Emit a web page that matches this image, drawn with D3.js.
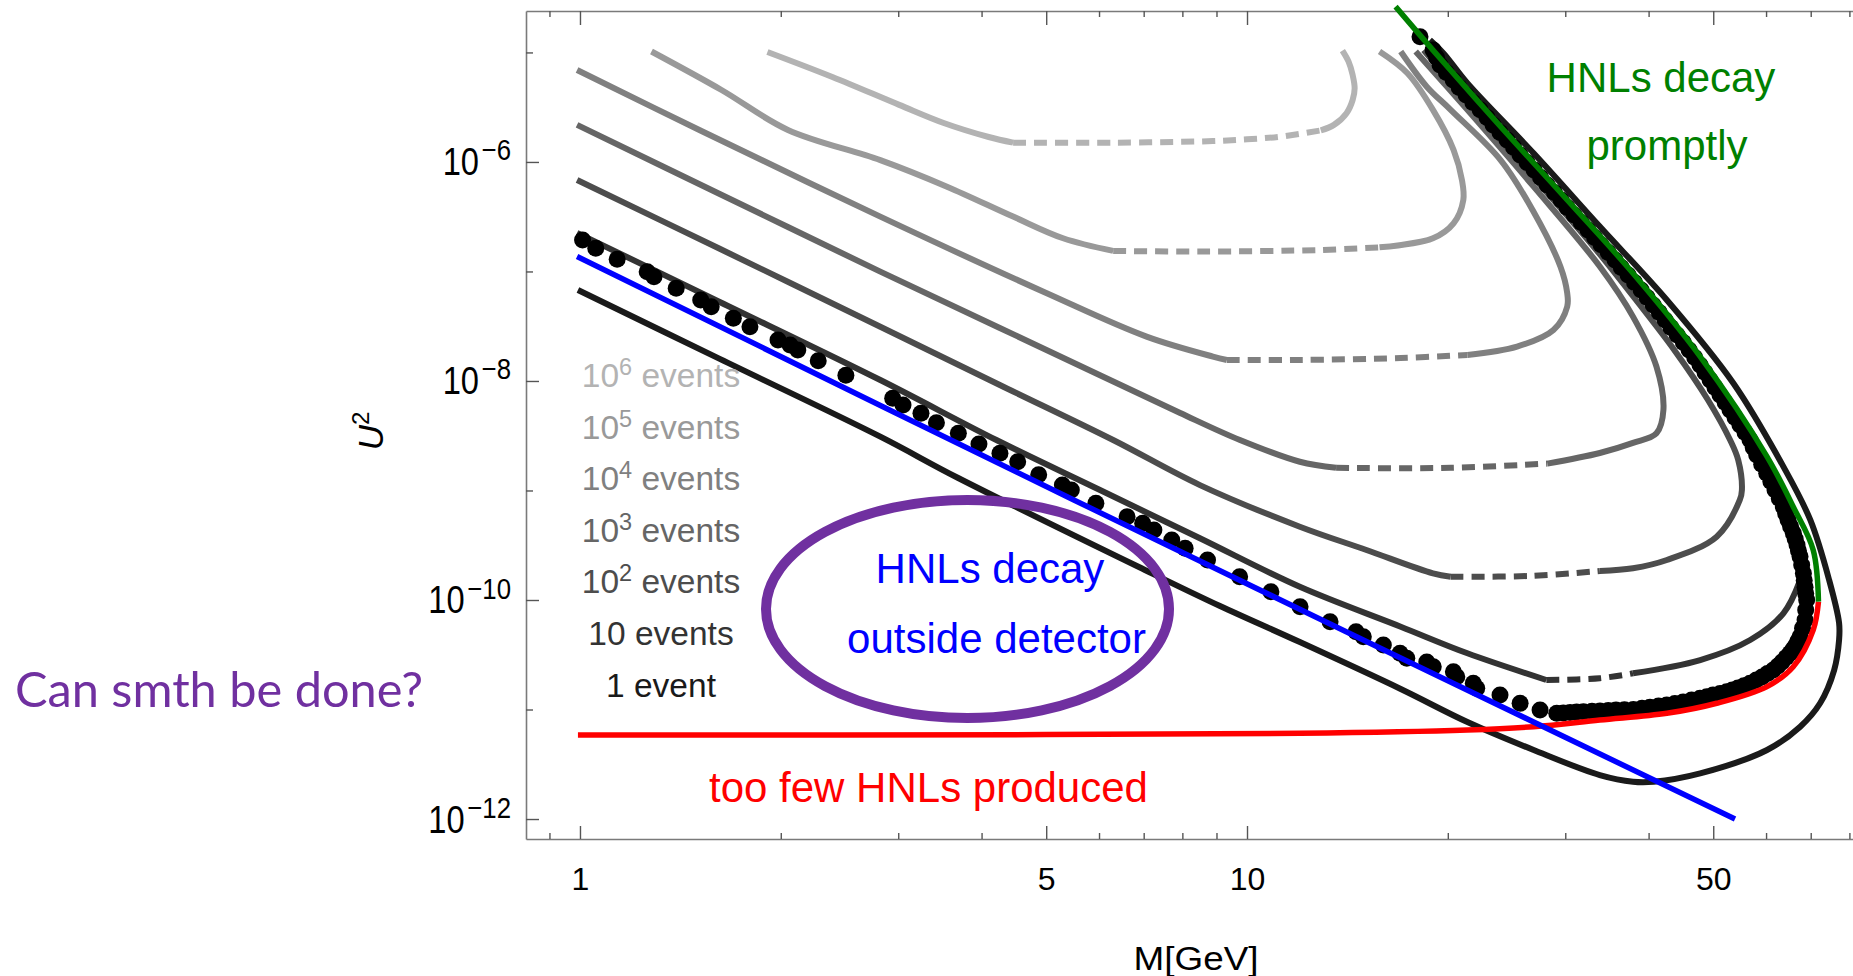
<!DOCTYPE html>
<html>
<head>
<meta charset="utf-8">
<title>HNL events vs. mass and mixing</title>
<script src="https://cdn.jsdelivr.net/npm/d3@7/dist/d3.min.js"></script>
<style>
  html, body { margin: 0; padding: 0; background: #fff; }
  svg { display: block; background: #fff; }
</style>
</head>
<body>
<svg id="chart" width="1853" height="976"></svg>
<script>
/* =======================================================================
   HNL event contours in the (M, U^2) plane
   ======================================================================= */

/* Data
======================================================================= */
var massRange = [0.83, 81],              // M[GeV] visible on the x axis
    mixingRange = [6.57e-13, 2.39e-5],   // U^2 visible on the y axis
    massTicksMajor = [1, 5, 10, 50],
    massTicksMinor = [0.9, 2, 3, 4, 6, 7, 8, 9, 20, 30, 40, 60, 70, 80],
    mixingTicksMajor = [1e-6, 1e-8, 1e-10, 1e-12],
    mixingTicksMinor = [1e-5, 1e-7, 1e-9, 1e-11];

// Contours of a fixed number of events, points are [M, U^2]
var events1e6 = [
  [1.91, 1.01e-5], [2.39, 5.97e-6], [3.01, 3.32e-6], [3.51, 2.27e-6], [4.10, 1.69e-6],
  [4.46, 1.50e-6], [6.30, 1.50e-6], [8.89, 1.55e-6], [10.0, 1.61e-6], [11.2, 1.70e-6],
  [12.9, 1.94e-6], [13.5, 2.18e-6], [14.1, 2.79e-6], [14.4, 3.68e-6], [14.5, 4.71e-6],
  [14.4, 6.23e-6], [14.2, 8.24e-6], [13.9, 1.04e-5]
];
var events1e5 = [
  [1.28, 1.02e-5], [1.63, 4.54e-6], [2.05, 1.96e-6], [2.82, 1.04e-6], [3.55, 5.95e-7],
  [4.46, 3.17e-7], [5.30, 2.01e-7], [6.30, 1.54e-7], [8.50, 1.52e-7], [12.9, 1.57e-7],
  [15.8, 1.66e-7], [19.0, 2.01e-7], [20.4, 2.75e-7], [21.1, 4.50e-7], [21.0, 6.85e-7],
  [20.4, 1.29e-6], [19.0, 2.99e-6], [17.4, 6.46e-6], [15.8, 1.02e-5]
];
var events1e4 = [
  [0.99, 6.92e-6], [1.51, 1.96e-6], [2.82, 3.17e-7], [5.01, 6.32e-8], [7.07, 2.54e-8],
  [8.89, 1.67e-8], [9.33, 1.555e-8], [12.0, 1.555e-8], [17.0, 1.62e-8], [21.4, 1.73e-8],
  [25.4, 2.06e-8], [28.8, 2.92e-8], [30.2, 4.77e-8], [30.2, 6.36e-8], [29.5, 1.11e-7],
  [26.8, 3.64e-7], [24.0, 1.04e-6], [20.2, 2.99e-6], [18.6, 4.87e-6], [17.0, 1.02e-5]
];
var events1e3 = [
  [0.99, 2.18e-6], [1.62, 5.10e-7], [2.82, 9.96e-8], [4.26, 3.05e-8], [6.02, 1.13e-8],
  [7.94, 5.10e-9], [9.76, 2.89e-9], [12.0, 1.83e-9], [13.6, 1.61e-9], [20.2, 1.61e-9],
  [28.2, 1.76e-9], [33.8, 2.20e-9], [37.9, 2.72e-9], [41.1, 3.33e-9], [42.1, 5.44e-9],
  [41.1, 1.35e-8], [37.9, 3.87e-8], [33.8, 1.11e-7], [26.9, 5.95e-7], [21.4, 2.99e-6],
  [17.9, 1.02e-5]
];
var events1e2 = [
  [0.99, 6.85e-7], [1.62, 1.61e-7], [2.82, 3.13e-8], [4.26, 9.19e-9], [6.30, 2.89e-9],
  [8.50, 1.12e-9], [12.0, 4.67e-10], [15.1, 2.86e-10], [19.0, 1.75e-10], [20.2, 1.63e-10],
  [26.8, 1.66e-10], [33.8, 1.84e-10], [37.9, 1.95e-10], [42.6, 2.32e-10], [50.6, 3.79e-10],
  [54.8, 8.19e-10], [55.2, 1.01e-9], [54.5, 1.90e-9], [53.0, 2.89e-9], [49.1, 6.71e-9],
  [43.7, 1.92e-8], [38.3, 5.49e-8], [33.4, 1.57e-7], [28.8, 4.50e-7], [24.7, 1.29e-6],
  [21.3, 3.68e-6], [18.4, 1.05e-5]
];
var events10 = [
  [0.99, 2.25e-7], [1.62, 5.27e-8], [2.82, 1.02e-8], [4.21, 2.89e-9], [6.02, 1.01e-9],
  [8.50, 3.66e-10], [12.0, 1.32e-10], [17.0, 5.70e-11], [21.4, 3.26e-11], [28.1, 1.86e-11],
  [33.8, 1.93e-11], [37.9, 2.14e-11], [47.8, 2.83e-11], [56.8, 4.31e-11], [63.7, 7.56e-11],
  [67.5, 1.52e-10], [68.3, 2.01e-10], [66.7, 4.07e-10], [63.0, 9.43e-10], [58.8, 1.90e-9],
  [51.5, 6.71e-9], [45.8, 1.92e-8], [39.9, 5.49e-8], [34.4, 1.57e-7], [29.5, 4.50e-7],
  [25.1, 1.29e-6], [21.6, 3.68e-6], [18.6, 1.05e-5]
];
var events1 = [
  [0.993, 6.78e-8], [1.62, 1.59e-8], [2.82, 3.10e-9], [3.69, 1.30e-9], [7.03, 1.88e-10],
  [9.11, 8.81e-11], [12.0, 4.13e-11], [17.0, 1.54e-11], [21.4, 7.69e-12], [26.9, 4.27e-12],
  [33.8, 2.52e-12], [37.9, 2.19e-12], [40.7, 2.19e-12], [47.8, 2.61e-12], [60.2, 4.27e-12],
  [67.5, 6.97e-12], [72.3, 1.14e-11], [75.9, 2.29e-11], [77.2, 4.31e-11], [77.2, 6.17e-11],
  [74.6, 1.52e-10], [69.9, 5.38e-10], [63.7, 1.65e-9], [53.6, 9.53e-9], [42.6, 5.49e-8],
  [33.8, 2.57e-7], [26.9, 1.20e-6], [21.4, 5.23e-6], [19.7, 9.83e-6], [18.8, 1.30e-5]
];

// Black points along the 10 event region
var hnlPoints = [
  [1.009, 1.94e-7], [1.056, 1.63e-7], [1.137, 1.29e-7], [1.261, 9.96e-8], [1.291, 8.96e-8],
  [1.394, 7.02e-8], [1.517, 5.49e-8], [1.573, 4.77e-8], [1.698, 3.74e-8], [1.798, 3.13e-8],
  [1.981, 2.37e-8], [2.065, 2.13e-8], [2.121, 1.92e-8], [2.276, 1.53e-8], [2.504, 1.13e-8],
  [2.943, 6.95e-9], [3.050, 6.04e-9], [3.245, 5.07e-9], [3.423, 4.16e-9], [3.692, 3.33e-9],
  [3.964, 2.66e-9], [4.262, 2.19e-9], [4.531, 1.83e-9], [4.872, 1.39e-9], [5.287, 1.12e-9],
  [5.453, 1.01e-9], [5.935, 7.64e-10], [6.610, 5.76e-10], [6.976, 5.02e-10], [7.251, 4.36e-10],
  [7.712, 3.53e-10], [8.077, 2.97e-10], [8.726, 2.32e-10], [9.748, 1.63e-10], [10.86, 1.19e-10],
  [12.01, 8.69e-11], [13.32, 6.34e-11], [14.57, 5.13e-11], [14.94, 4.62e-11], [16.01, 3.88e-11],
  [16.96, 3.26e-11], [17.36, 2.94e-11], [18.60, 2.72e-11], [19.02, 2.46e-11], [20.39, 2.21e-11],
  [20.63, 1.99e-11], [21.84, 1.74e-11], [22.10, 1.56e-11], [23.95, 1.36e-11], [25.67, 1.14e-11],
  [27.50, 9.89e-12], [29.13, 9.23e-12], [30.50, 9.39e-12], [31.94, 9.55e-12], [33.82, 9.69e-12],
  [35.74, 9.89e-12], [37.95, 1.00e-11], [40.19, 1.05e-11], [42.59, 1.10e-11], [45.06, 1.17e-11],
  [47.77, 1.27e-11], [49.96, 1.36e-11], [52.38, 1.45e-11], [54.46, 1.57e-11], [56.77, 1.74e-11],
  [59.17, 1.98e-11], [61.52, 2.29e-11], [63.40, 2.72e-11], [65.18, 3.26e-11], [66.55, 3.88e-11],
  [67.46, 4.62e-11], [68.64, 6.57e-11], [69.03, 1.00e-10], [68.64, 1.31e-10], [68.25, 1.75e-10],
  [67.46, 2.49e-10], [66.77, 3.18e-10], [65.93, 4.07e-10], [64.73, 5.38e-10], [63.69, 7.11e-10],
  [61.88, 1.01e-9], [60.14, 1.44e-9], [58.09, 2.11e-9], [56.77, 2.89e-9], [54.83, 3.96e-9],
  [52.98, 5.44e-9], [51.18, 7.45e-9], [49.45, 1.02e-8], [47.77, 1.40e-8], [46.0, 1.92e-8],
  [44.14, 2.63e-8], [42.34, 3.61e-8], [40.63, 4.94e-8], [38.97, 6.78e-8], [37.26, 9.29e-8],
  [35.62, 1.27e-7], [33.95, 1.75e-7], [32.45, 2.39e-7], [30.93, 3.28e-7], [29.57, 4.50e-7],
  [28.18, 6.17e-7], [26.94, 8.45e-7], [25.67, 1.16e-6], [24.54, 1.59e-6], [23.38, 2.18e-6],
  [22.36, 2.99e-6], [21.30, 4.09e-6], [20.37, 5.61e-6], [19.47, 7.69e-6], [19.01, 1.05e-5],
  [18.17, 1.39e-5]
];

// Further points where they pile up into a solid band (right side)
var hnlBandPoints = [
  [29.8, 9.31e-12], [31.2, 9.47e-12], [32.9, 9.62e-12], [34.8, 9.79e-12], [36.8, 9.94e-12],
  [39.1, 1.025e-11], [41.4, 1.075e-11], [43.8, 1.135e-11], [46.4, 1.22e-11], [48.9, 1.31e-11],
  [51.2, 1.40e-11], [53.4, 1.51e-11], [55.6, 1.65e-11], [58.0, 1.86e-11], [60.3, 2.13e-11],
  [62.5, 2.50e-11], [64.3, 2.98e-11], [65.9, 3.56e-11], [67.0, 4.23e-11], [68.05, 5.51e-11],
  [68.8, 8.1e-11], [68.8, 1.145e-10], [68.45, 1.51e-10], [67.85, 2.09e-10], [67.1, 2.81e-10],
  [66.35, 3.60e-10], [65.3, 4.68e-10], [64.2, 6.18e-10], [62.8, 8.47e-10], [61.0, 1.21e-9],
  [59.1, 1.74e-9], [57.4, 2.47e-9], [55.8, 3.38e-9], [53.9, 4.64e-9], [52.1, 6.37e-9],
  [50.3, 8.72e-9], [48.6, 1.195e-8], [46.9, 1.64e-8], [45.1, 2.25e-8], [43.2, 3.08e-8],
  [41.5, 4.22e-8], [39.8, 5.79e-8], [38.1, 7.94e-8], [36.4, 1.086e-7], [34.8, 1.49e-7],
  [33.2, 2.045e-7], [31.7, 2.80e-7], [30.2, 3.84e-7], [28.9, 5.27e-7], [27.55, 7.22e-7],
  [26.3, 9.9e-7], [25.1, 1.36e-6], [23.95, 1.86e-6], [22.9, 2.55e-6], [21.8, 3.50e-6],
  [20.8, 4.79e-6], [19.9, 6.57e-6], [19.24, 8.99e-6]
];

// Boundary lines
var decayOutside = [[0.99, 1.37e-7], [5.50, 8.19e-10], [53.9, 1.0e-12]];
var tooFewProduced = [
  [0.993, 5.85e-12], [5.0, 5.90e-12], [12.0, 6.06e-12], [21.4, 6.50e-12], [26.9, 6.97e-12],
  [33.8, 8.02e-12], [42.6, 9.23e-12], [50.6, 1.14e-11], [60.2, 1.62e-11], [65.9, 2.46e-11],
  [70.6, 5.32e-11], [71.9, 9.65e-11]
];
var decayPromptly = [
  [16.7, 2.62e-5], [19.0, 1.05e-5], [24.0, 2.10e-6], [30.2, 4.50e-7], [37.9, 9.63e-8],
  [47.8, 1.67e-8], [60.2, 2.04e-9], [65.9, 7.11e-10], [70.6, 2.86e-10], [71.9, 9.65e-11]
];

// Legend labels for the contours
var legendBase = ['10', '10', '10', '10', '10', '10 events', '1 event'],
    legendPower = ['6', '5', '4', '3', '2', '', ''],
    legendTail = [' events', ' events', ' events', ' events', ' events', '', ''];

/* Styles and layout
======================================================================= */
var textFont = '"Liberation Sans", Arial, Helvetica, sans-serif',
    axisColor = '#7a7a7a',
    plot = { left: 526, top: 11, right: 1853, bottom: 839 },
    contours = [
      { data: events1e6, color: '#b3b3b3', dash: [5, 10] },
      { data: events1e5, color: '#999999', dash: [7, 10] },
      { data: events1e4, color: '#808080', dash: [6, 9] },
      { data: events1e3, color: '#666666', dash: [8, 10] },
      { data: events1e2, color: '#4d4d4d', dash: [9, 11] },
      { data: events10, color: '#333333', dash: [9, 11] },
      { data: events1, color: '#1a1a1a', dash: null }
    ];

var svg = d3.select('#chart');

// Scales
var x = d3.scaleLog().domain(massRange).range([plot.left, plot.right]),
    y = d3.scaleLog().domain(mixingRange).range([plot.bottom, plot.top]);

var line = d3.line()
  .x(function(d) { return x(d[0]); })
  .y(function(d) { return y(d[1]); })
  .curve(d3.curveCatmullRom.alpha(0.5));

/* Axes
======================================================================= */
function styleAxis(g, keepDomain) {
  g.attr('font-family', textFont);
  if (keepDomain) {
    g.select('.domain').attr('stroke', axisColor).attr('stroke-width', 1.6);
  } else {
    g.select('.domain').remove();
  }
  g.selectAll('.tick line').attr('stroke', '#555').attr('stroke-width', 1.4);
}

// Bottom axis with labels
svg.append('g')
  .attr('transform', 'translate(0,' + plot.bottom + ')')
  .call(d3.axisBottom(x).tickValues(massTicksMajor).tickSizeInner(-13).tickSizeOuter(0)
    .tickPadding(28).tickFormat(d3.format('d')))
  .call(function(g) {
    styleAxis(g, true);
    g.selectAll('.tick text').attr('font-size', 32).attr('fill', '#000');
  });

svg.append('g')
  .attr('transform', 'translate(0,' + plot.bottom + ')')
  .call(d3.axisBottom(x).tickValues(massTicksMinor).tickSizeInner(-6).tickSizeOuter(0).tickFormat(''))
  .call(function(g) { styleAxis(g, false); });

// Top frame
svg.append('g')
  .attr('transform', 'translate(0,' + plot.top + ')')
  .call(d3.axisTop(x).tickValues(massTicksMajor).tickSizeInner(-14).tickSizeOuter(0).tickFormat(''))
  .call(function(g) { styleAxis(g, true); });

svg.append('g')
  .attr('transform', 'translate(0,' + plot.top + ')')
  .call(d3.axisTop(x).tickValues(massTicksMinor).tickSizeInner(-6).tickSizeOuter(0).tickFormat(''))
  .call(function(g) { styleAxis(g, false); });

// Left axis, labels are written as 10 with a raised exponent
svg.append('g')
  .attr('transform', 'translate(' + plot.left + ',0)')
  .call(d3.axisLeft(y).tickValues(mixingTicksMajor).tickSizeInner(-13).tickSizeOuter(0).tickFormat(''))
  .call(function(g) {
    styleAxis(g, true);
    g.selectAll('.tick text').remove();
    g.selectAll('.tick').append('text')
      .attr('transform', 'translate(-15,13) scale(0.86,1)')
      .attr('text-anchor', 'end')
      .attr('fill', '#000')
      .each(function(d) {
        var t = d3.select(this);
        t.append('tspan').attr('font-size', 38).text('10');
        t.append('tspan').attr('font-size', 30).attr('dx', 3).attr('dy', -15)
          .text('\u2212' + Math.round(-Math.log10(d)));
      });
  });

svg.append('g')
  .attr('transform', 'translate(' + plot.left + ',0)')
  .call(d3.axisLeft(y).tickValues(mixingTicksMinor).tickSizeInner(-7).tickSizeOuter(0).tickFormat(''))
  .call(function(g) { styleAxis(g, false); });

// Axis titles
svg.append('text')
  .attr('x', 1196).attr('y', 970)
  .attr('text-anchor', 'middle')
  .attr('font-family', textFont).attr('font-size', 33)
  .attr('textLength', 125).attr('lengthAdjust', 'spacingAndGlyphs')
  .text('M[GeV]');

var yTitle = svg.append('text')
  .attr('transform', 'translate(383,431) rotate(-90)')
  .attr('text-anchor', 'middle')
  .attr('font-family', textFont).attr('font-size', 35);
yTitle.append('tspan').attr('font-style', 'italic').text('U');
yTitle.append('tspan').attr('font-size', 24).attr('dy', -14).text('2');

/* Curves
======================================================================= */
var curveLayer = svg.append('g').attr('fill', 'none');

contours.forEach(function(c) {
  var pieces;

  // Split each contour so the flat middle part can be dashed
  if (c.dash) {
    pieces = [
      { pts: c.data.slice(0, c.dash[0] + 1), dashed: false },
      { pts: c.data.slice(c.dash[0], c.dash[1] + 1), dashed: true },
      { pts: c.data.slice(c.dash[1]), dashed: false }
    ];
  } else {
    pieces = [{ pts: c.data, dashed: false }];
  }

  pieces.forEach(function(p) {
    curveLayer.append('path')
      .attr('d', line(p.pts))
      .attr('stroke', c.color)
      .attr('stroke-width', 6)
      .attr('stroke-dasharray', p.dashed ? '13,8' : null);
  });
});

// Points
svg.append('g')
  .selectAll('circle')
  .data(hnlPoints.concat(hnlBandPoints))
  .join('circle')
    .attr('cx', function(d) { return x(d[0]); })
    .attr('cy', function(d) { return y(d[1]); })
    .attr('r', 8.5)
    .attr('fill', '#000');

// Boundary lines
[[tooFewProduced, '#ff0000'], [decayOutside, '#0000ff'], [decayPromptly, '#008000']].forEach(function(b) {
  svg.append('path')
    .attr('d', line(b[0]))
    .attr('fill', 'none')
    .attr('stroke', b[1])
    .attr('stroke-width', 5.5);
});

/* Annotations
======================================================================= */
var legend = svg.append('g')
  .attr('font-family', textFont)
  .attr('font-size', 33.5)
  .attr('text-anchor', 'middle');

legendBase.forEach(function(base, i) {
  var t = legend.append('text')
    .attr('x', 661)
    .attr('y', 387 + i * 51.6)
    .attr('fill', contours[i].color);
  t.append('tspan').text(base);
  if (legendPower[i]) {
    t.append('tspan').attr('font-size', 23.5).attr('dy', -12).text(legendPower[i]);
    t.append('tspan').attr('dy', 12).text(legendTail[i]);
  }
});

// Region labels
function addLabel(str, cx, baseline, color) {
  return svg.append('text')
    .attr('x', cx).attr('y', baseline)
    .attr('text-anchor', 'middle')
    .attr('font-family', textFont)
    .attr('font-size', 42)
    .attr('fill', color)
    .text(str);
}

addLabel('HNLs decay', 1661, 92, '#008000');
addLabel('promptly', 1667, 160, '#008000');

svg.append('ellipse')
  .attr('cx', 967.5).attr('cy', 609)
  .attr('rx', 201.5).attr('ry', 109)
  .attr('fill', 'none')
  .attr('stroke', '#7030a0')
  .attr('stroke-width', 10);

addLabel('HNLs decay', 990, 583, '#0000ff');
addLabel('outside detector', 996.5, 653, '#0000ff');
addLabel('too few HNLs produced', 928.5, 802, '#ff0000');

// Question on the left
svg.append('text')
  .attr('x', 15).attr('y', 707)
  .attr('font-family', 'Lato, "Open Sans", sans-serif')
  .attr('font-size', 48)
  .attr('fill', '#7030a0')
  .attr('textLength', 408).attr('lengthAdjust', 'spacingAndGlyphs')
  .text('Can smth be done?');
</script>
</body>
</html>
